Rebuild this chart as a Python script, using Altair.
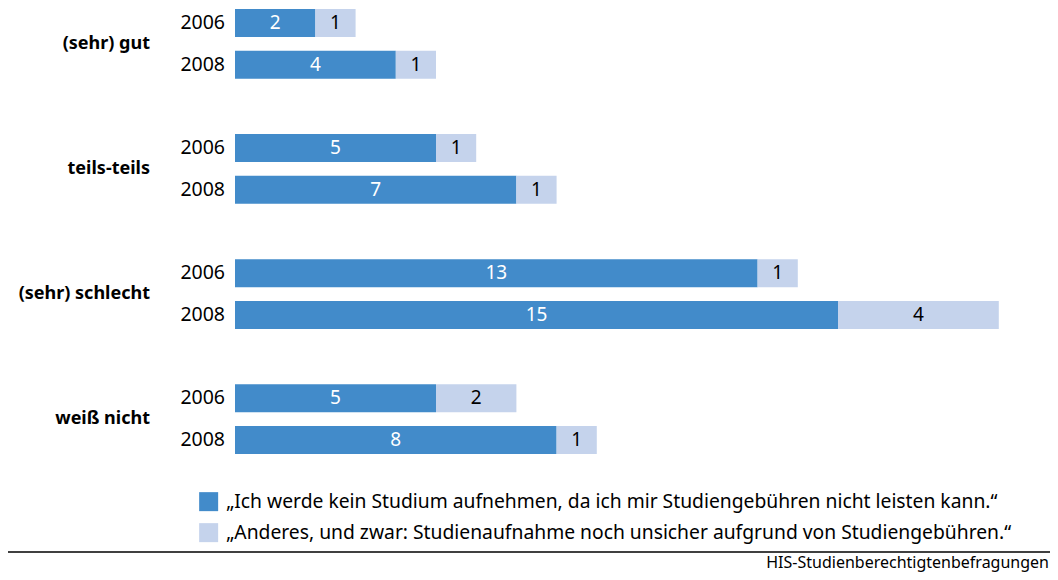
import altair as alt
import pandas as pd

FONT = "Noto Sans"

categories = ["(sehr) gut", "teils-teils", "(sehr) schlecht", "weiß nicht"]
years = ["2006", "2008"]
series = [
    "\u201eIch werde kein Studium aufnehmen, da ich mir Studiengebühren nicht leisten kann.\u201c",
    "\u201eAnderes, und zwar: Studienaufnahme noch unsicher aufgrund von Studiengebühren.\u201c",
]
kein = [2, 4, 5, 7, 13, 15, 5, 8]
unsicher = [1, 1, 1, 1, 1, 4, 2, 1]
colors = ["#428BCA", "#C5D3EC"]
source = "HIS-Studienberechtigtenbefragungen"

rows = []
domain = []
i = 0
for ci, cat in enumerate(categories):
    if ci > 0:
        domain.append(f"gap{ci}")
    for yr in years:
        key = f"{cat}|{yr}"
        domain.append(key)
        for si, (s, vals) in enumerate(zip(series, [kein, unsicher])):
            rows.append(dict(key=key, cat=cat, year=yr, series=s, order=si, value=vals[i]))
        i += 1
df = pd.DataFrame(rows)

yscale = alt.Scale(domain=domain, paddingInner=0.328, paddingOuter=0.024)
xscale = alt.Scale(domain=[0, 20], nice=False, zero=True)

base = alt.Chart(df)

bars = base.mark_bar().encode(
    x=alt.X("value:Q", stack="zero", scale=xscale, axis=None),
    y=alt.Y("key:N", scale=yscale, axis=None),
    color=alt.Color(
        "series:N",
        scale=alt.Scale(domain=series, range=colors),
        legend=alt.Legend(
            title=None,
            orient="none",
            legendX=-36,
            legendY=484,
            symbolType="square",
            symbolSize=361,
            symbolStrokeWidth=0,
            symbolOpacity=1,
            labelFont=FONT,
            labelFontSize=19.3,
            labelColor="black",
            labelLimit=1000,
            labelOffset=8,
            rowPadding=11,
        ),
    ),
    order=alt.Order("order:Q"),
)

labels = (
    base.transform_stack(
        stack="value", groupby=["key"], as_=["v0", "v1"], sort=[alt.SortField("order")]
    )
    .transform_calculate(mid="(datum.v0 + datum.v1) / 2")
    .mark_text(font=FONT, fontSize=19, baseline="middle")
    .encode(
        x=alt.X("mid:Q", scale=xscale, axis=None),
        y=alt.Y("key:N", scale=yscale, axis=None),
        text=alt.Text("value:Q"),
        color=alt.condition("datum.order == 0", alt.value("white"), alt.value("black")),
    )
)

year_labels = (
    base.transform_filter("datum.order == 0")
    .mark_text(font=FONT, fontSize=19.5, align="right", baseline="middle", color="black")
    .encode(
        x=alt.value(-10),
        y=alt.Y("key:N", scale=yscale, axis=None),
        text="year:N",
    )
)

cat_labels = (
    base.transform_filter("datum.order == 0 && datum.year == '2006'")
    .mark_text(font=FONT, fontSize=18, fontWeight="bold", align="right", baseline="middle", dy=21, color="black")
    .encode(
        x=alt.value(-85),
        y=alt.Y("key:N", scale=yscale, axis=None),
        text="cat:N",
    )
)

one = alt.Chart(pd.DataFrame({"a": [0]}))
rule = one.mark_rule(color="black", strokeWidth=1.5).encode(
    x=alt.value(-227), x2=alt.value(815), y=alt.value(544)
)
src = one.mark_text(font=FONT, fontSize=16, align="right", baseline="middle", color="black").encode(
    x=alt.value(814), y=alt.value(555), text=alt.value(source)
)

chart = (
    alt.layer(bars, labels, year_labels, cat_labels, rule, src)
    .properties(
        width=804,
        height=447,
        padding={"left": 227, "top": 0, "right": 11, "bottom": 117},
        autosize=alt.AutoSizeParams(type="none"),
    )
    .configure_view(stroke=None)
)

chart.save("out.html", embed_options={"renderer": "svg", "actions": False})
